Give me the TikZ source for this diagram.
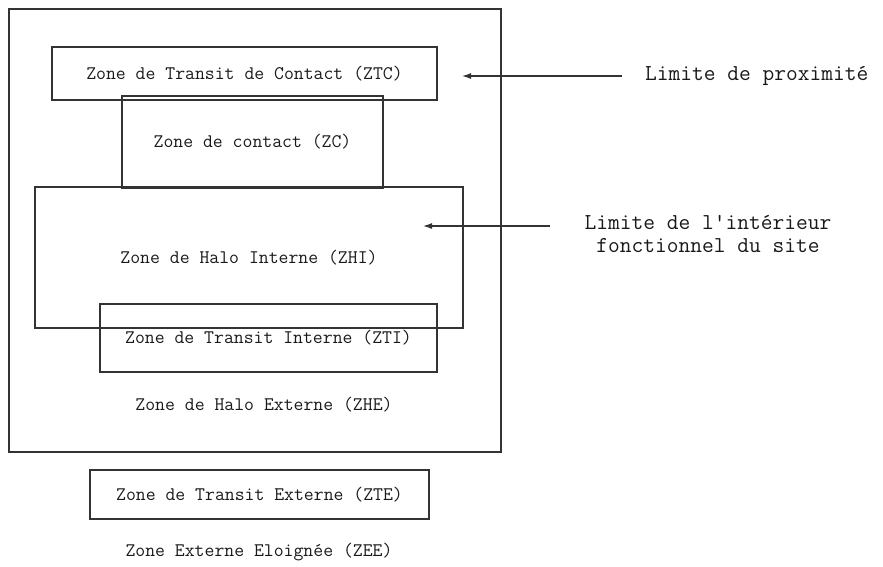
\documentclass[tikz,border=0pt]{standalone}
\usepackage{fontspec}
\usetikzlibrary{positioning, arrows.meta}

\newcommand{\zonefont}{\ttfamily\fontsize{19.2}{20}\selectfont}
\newcommand{\limfont}{\ttfamily\fontsize{22.8}{23}\selectfont}

\tikzset{
    zone/.style={draw=black!80, line width=1.2pt, text=black!90, font=\zonefont, inner sep=0pt},
    label/.style={text=black!90, font=\zonefont, inner sep=0pt},
    limit/.style={text=black!90, font=\limfont, inner sep=0pt, align=center},
    pointer/.style={draw=black!80, line width=1.2pt, -{Latex[length=9pt, width=6pt]}}
}

\begin{document}
\begin{tikzpicture}[x=1pt, y=-1pt]
        \useasboundingbox (0,0) rectangle (883,566);
        \node[zone, minimum width=492, minimum height=443] (site) at (255,230.5) {};
        \node[zone, minimum width=385, minimum height=53] (ztc) at (244.5,73.5) {Zone de Transit de Contact (ZTC)};
        \node[zone, minimum width=261, minimum height=92] (zc) at (252.5,142) {Zone de contact (ZC)};
        \node[zone, minimum width=428, minimum height=141] (zhi) at (249,257.5) {Zone de Halo Interne (ZHI)};
        \node[zone, minimum width=337, minimum height=68] (zti) at (268.5,338) {Zone de Transit Interne (ZTI)};
        \node[label] (zhe) at (264,405) {Zone de Halo Externe (ZHE)};
        \node[zone, minimum width=339, minimum height=49] (zte) at (259.5,494.5) {Zone de Transit Externe (ZTE)};
        \node[label] (zee) at (259,552) {Zone Externe Eloign\'ee (ZEE)};
        \node[limit, anchor=west] (prox) at (645,76) {Limite de proximit\'e};
        \node[limit] (interieur) at (708,234) {Limite de l'int\'erieur\\fonctionnel du site};
        \coordinate (proxedge) at (462,76);
        \coordinate (intfrom) at (550,226);
        \coordinate (intedge) at (423,226);
        \draw[pointer] ([xshift=-23pt]prox.west) -- (proxedge);
        \draw[pointer] (intfrom) -- (intedge);
    \end{tikzpicture}
\end{document}
